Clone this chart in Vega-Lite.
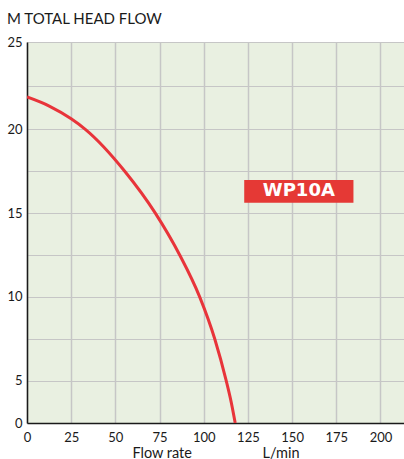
{
  "$schema": "https://vega.github.io/schema/vega-lite/v6.json",
  "autosize": "none",
  "padding": {"left": 27, "top": 42, "right": 0, "bottom": 36},
  "width": 377,
  "height": 381,
  "background": "white",
  "title": {
    "text": "M TOTAL HEAD FLOW",
    "anchor": "start",
    "frame": "group",
    "dx": -20,
    "dy": 22,
    "offset": 19,
    "baseline": "alphabetic",
    "font": "Lato",
    "fontSize": 15,
    "fontWeight": "normal",
    "color": "#1a1a1a"
  },
  "config": {
    "view": {"fill": "#e9f0e1", "stroke": null},
    "axis": {
      "labelFont": "Lato",
      "labelFontSize": 13,
      "labelColor": "#1a1a1a",
      "titleFont": "Lato",
      "titleFontSize": 14.5,
      "titleFontWeight": "normal",
      "titleColor": "#1a1a1a",
      "domainColor": "#1a1a1a",
      "domainWidth": 1.5,
      "gridColor": "#c6c6c6",
      "ticks": false
    }
  },
  "layer": [
    {
      "data": {"values": [
        {"flow": 0, "head": 21.85},
        {"flow": 12.6, "head": 21.33},
        {"flow": 25, "head": 20.6},
        {"flow": 33, "head": 20.0},
        {"flow": 55.3, "head": 17.5},
        {"flow": 72.6, "head": 15.0},
        {"flow": 86.4, "head": 12.5},
        {"flow": 97.7, "head": 10.0},
        {"flow": 106.2, "head": 7.5},
        {"flow": 112.7, "head": 5.0},
        {"flow": 115.5, "head": 2.5},
        {"flow": 117.8, "head": 0}
      ]},
      "mark": {"type": "line", "color": "#e8343a", "strokeWidth": 3, "interpolate": "monotone", "clip": true},
      "encoding": {
        "x": {
          "field": "flow",
          "type": "quantitative",
          "scale": {"domain": [0, 213.3], "nice": false, "zero": false},
          "axis": {
            "values": [0, 25, 50, 75, 100, 125, 150, 175, 200],
            "grid": true,
            "gridWidth": 1.5,
            "labelPadding": 8,
            "labelFlush": false,
            "title": "Flow rate\u00a0\u00a0\u00a0\u00a0\u00a0\u00a0\u00a0\u00a0\u00a0\u00a0\u00a0\u00a0\u00a0\u00a0\u00a0\u00a0\u00a0\u00a0\u00a0L/min",
            "titlePadding": 2
          }
        },
        "y": {
          "field": "head",
          "type": "quantitative",
          "scale": {"domain": [0, 5, 20, 25], "range": [381, 338.7, 87.3, 0], "nice": false, "zero": false},
          "axis": {
            "values": [0, 5, 7.5, 10, 12.5, 15, 17.5, 20, 22.5, 25],
            "labelExpr": "datum.value % 5 === 0 ? datum.label : ''",
            "grid": true,
            "gridWidth": 1,
            "labelPadding": 5,
            "labelBaseline": "middle",
            "labelFlush": false,
            "title": null
          }
        }
      }
    },
    {
      "mark": {"type": "rule", "color": "#1a1a1a", "strokeWidth": 1.5},
      "encoding": {"y": {"datum": 25}}
    },
    {
      "data": {"values": [{"x1": 122.9, "x2": 184.7, "y1": 15.62, "y2": 16.97, "mid": 153.8, "ymid": 16.3, "name": "WP10A"}]},
      "layer": [
        {
          "mark": {"type": "rect", "color": "#e53935"},
          "encoding": {
            "x": {"field": "x1", "type": "quantitative"},
            "x2": {"field": "x2"},
            "y": {"field": "y1", "type": "quantitative"},
            "y2": {"field": "y2"}
          }
        },
        {
          "mark": {"type": "text", "color": "white", "font": "DejaVu Sans", "fontWeight": "bold", "fontSize": 18, "baseline": "middle", "align": "center"},
          "encoding": {
            "x": {"field": "mid", "type": "quantitative"},
            "y": {"field": "ymid", "type": "quantitative"},
            "text": {"field": "name"}
          }
        }
      ]
    }
  ]
}
